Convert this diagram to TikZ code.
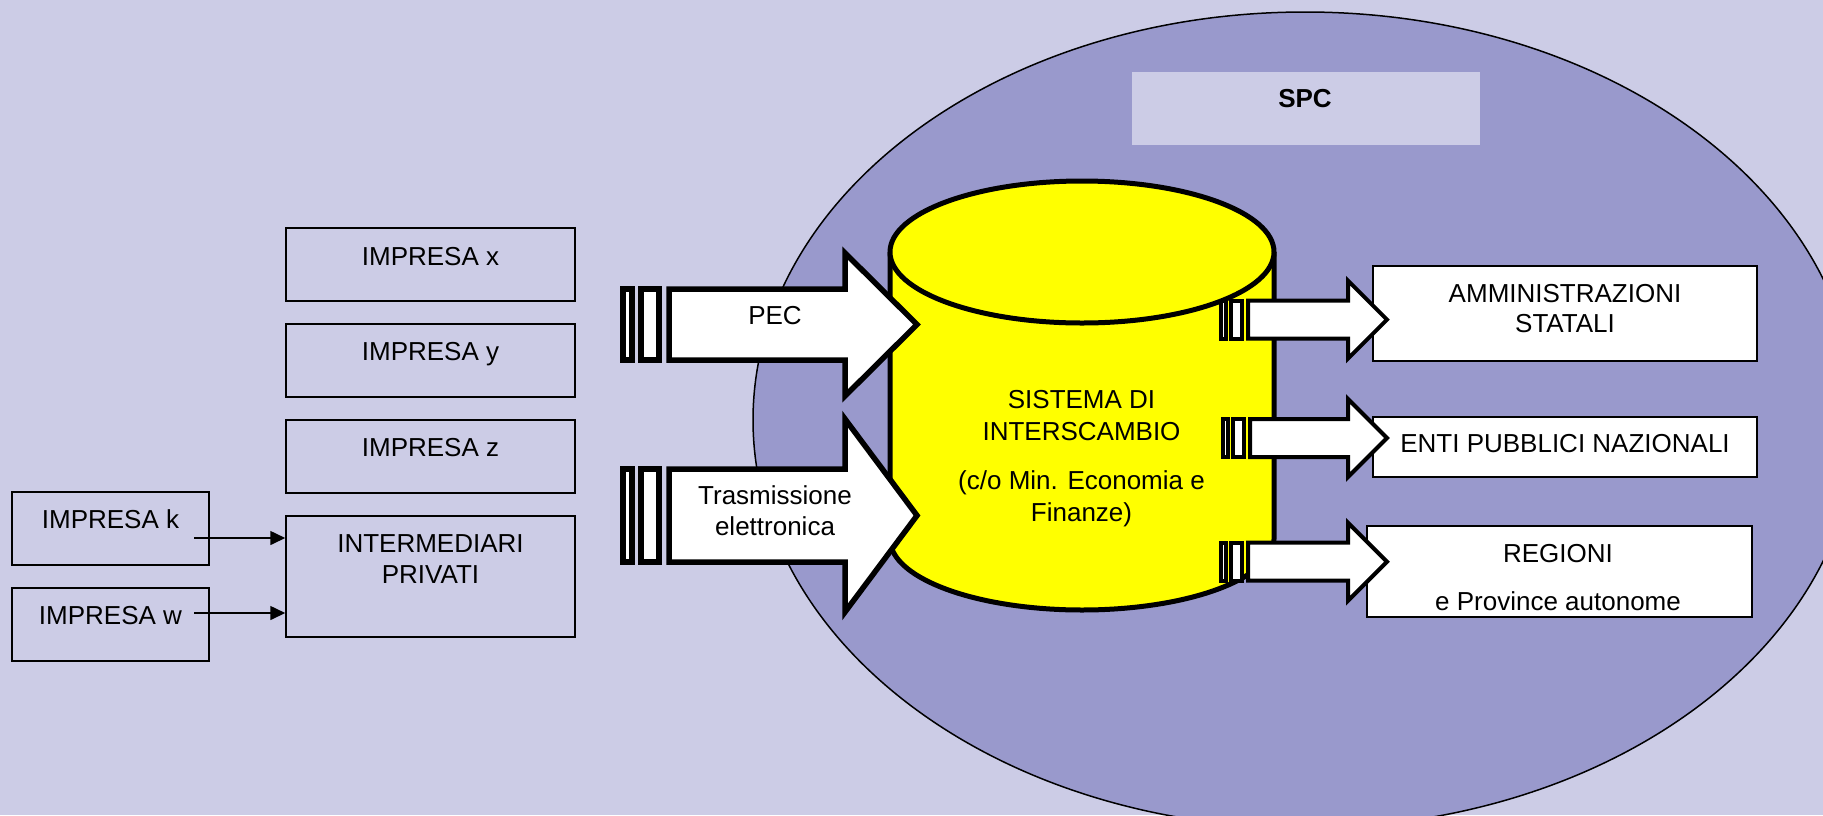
\documentclass[tikz,border=0pt]{standalone}
\usepackage{fontspec}
\setmainfont{Liberation Sans}
\usetikzlibrary{arrows.meta}
\definecolor{bgc}{RGB}{204,204,230}
\definecolor{ellc}{RGB}{153,153,204}
\definecolor{cyly}{RGB}{255,255,0}
\begin{document}
\begin{tikzpicture}[x=0.5pt,y=-0.5pt,
  txt/.style={font=\fontsize{13pt}{16pt}\selectfont, inner sep=0pt, anchor=base},
  lbox/.style={draw=black, line width=0.75pt, inner sep=0pt},
  rbox/.style={lbox, fill=white},
  cyl/.style={draw=black, line width=2.5pt, fill=cyly},
  bigarr/.style={draw=black, line width=2.75pt, fill=white, miter limit=10},
  smallarr/.style={draw=black, line width=2pt, fill=white, miter limit=10},
  conn/.style={draw=black, line width=0.8pt, -{Triangle[length=7.5pt,width=7pt]}}]
\useasboundingbox (0,0) rectangle (1823,815);
\clip (0,0) rectangle (1823,815);
\fill[bgc] (0,0) rectangle (1823,815);

% SPC area
\draw[fill=ellc, line width=0.75pt] (1305,420) ellipse [x radius=552, y radius=408];
\node[fill=bgc, minimum width=174pt, minimum height=36.5pt, inner sep=0pt] (spc) at (1306,108.5) {};
\node[txt, font=\fontsize{13pt}{16pt}\selectfont\bfseries] (spct) at (1305,107.3) {SPC};

% left boxes
\node[lbox, minimum width=144.5pt, minimum height=36.5pt] (ix) at (430.5,264.5) {};
\node[lbox, minimum width=144.5pt, minimum height=36.5pt] (iy) at (430.5,360.5) {};
\node[lbox, minimum width=144.5pt, minimum height=36.5pt] (iz) at (430.5,456.5) {};
\node[lbox, minimum width=144.5pt, minimum height=60.5pt] (im) at (430.5,576.5) {};
\node[lbox, minimum width=98.5pt, minimum height=36.5pt] (ik) at (110.5,528.5) {};
\node[lbox, minimum width=98.5pt, minimum height=36.5pt] (iw) at (110.5,624.5) {};
\node[txt] (ixt) at (430.5,265) {IMPRESA x};
\node[txt] (iyt) at (430.5,360) {IMPRESA y};
\node[txt] (izt) at (430.5,456) {IMPRESA z};
\node[txt] (imt1) at (430.5,552.5) {INTERMEDIARI};
\node[txt] (imt2) at (430.5,583.5) {PRIVATI};
\node[txt] (ikt) at (110.5,528) {IMPRESA k};
\node[txt] (iwt) at (110.5,624) {IMPRESA w};
\coordinate (ks) at (194,538);
\coordinate (ws) at (194,613);
\draw[conn] (ks) -- (ks -| im.west);
\draw[conn] (ws) -- (ws -| im.west);

% cylinder
\filldraw[cyl] (890,252) -- (890,539) -- plot[domain=180:360, samples=73] ({1082+192*cos(\x)},{539-71*sin(\x)}) -- (1274,252);
\filldraw[cyl] (1082,252) ellipse [x radius=192, y radius=71];
\node[txt] (s1) at (1081.5,408) {SISTEMA DI};
\node[txt] (s2) at (1081.5,440.5) {INTERSCAMBIO};
\node[txt] (s3) at (1081.5,489.5) {(c/o Min. Economia e};
\node[txt] (s4) at (1081.5,521) {Finanze)};

% right boxes
\node[rbox, minimum width=192pt, minimum height=47.5pt] (amm) at (1565,313.5) {};
\node[rbox, minimum width=192pt, minimum height=30pt] (enti) at (1565,447) {};
\node[rbox, minimum width=192.5pt, minimum height=45.5pt] (reg) at (1559.5,571.5) {};

% big arrows
\draw[bigarr] (623,289) rectangle (632,360);
\draw[bigarr] (641,289) rectangle (659,360);
\draw[bigarr] (669,289) -- (845,289) -- (845,253) -- (917,324.5) -- (845,396) -- (845,360) -- (669,360) -- cycle;
\draw[bigarr] (623,469) rectangle (632,562);
\draw[bigarr] (641,469) rectangle (659,562);
\draw[bigarr] (669,469) -- (845,469) -- (845,419) -- (917,515.5) -- (845,612) -- (845,562) -- (669,562) -- cycle;
\node[txt] (pec) at (775,324) {PEC};
\node[txt] (tr1) at (775,504) {Trasmissione};
\node[txt] (tr2) at (775,535) {elettronica};

% small arrows
\foreach \c/\d in {319.6/0, 438/2, 561.7/0}{
  \draw[smallarr] ({1221+\d},{\c-19}) rectangle ({1226+\d},{\c+19});
  \draw[smallarr] ({1231+\d},{\c-19}) rectangle ({1242+\d},{\c+19});
  \draw[smallarr] ({1248+\d},{\c-19}) -- (1348,{\c-19}) -- (1348,{\c-39}) -- (1387,\c) -- (1348,{\c+39}) -- (1348,{\c+19}) -- ({1248+\d},{\c+19}) -- cycle;
}
\node[txt] (ammt1) at (1565,302) {AMMINISTRAZIONI};
\node[txt] (ammt2) at (1565,332) {STATALI};
\node[txt] (entit) at (1565,452) {ENTI PUBBLICI NAZIONALI};
\node[txt] (regt1) at (1558,562) {REGIONI};
\node[txt] (regt2) at (1558,610) {e Province autonome};
\end{tikzpicture}
\end{document}
